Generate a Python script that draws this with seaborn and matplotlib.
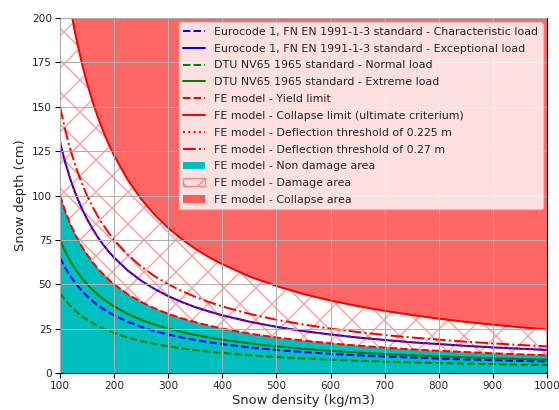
import matplotlib
matplotlib.use("Agg")
import matplotlib.pyplot as plt
import seaborn as sns
import pandas as pd

# Snow density (kg/m3) sample points
density = [100, 110, 120, 130, 140, 150, 160, 170, 180, 190, 200, 225, 250, 275, 300,
           325, 350, 375, 400, 450, 500, 550, 600, 650, 700, 750, 800, 850, 900, 950, 1000]

# Snow depth (cm) for each curve
ec_characteristic = [65.0, 59.1, 54.2, 50.0, 46.4, 43.3, 40.6, 38.2, 36.1, 34.2, 32.5, 28.9,
                     26.0, 23.6, 21.7, 20.0, 18.6, 17.3, 16.3, 14.4, 13.0, 11.8, 10.8, 10.0,
                     9.3, 8.7, 8.1, 7.6, 7.2, 6.8, 6.5]
ec_exceptional = [130.0, 118.2, 108.3, 100.0, 92.9, 86.7, 81.3, 76.5, 72.2, 68.4, 65.0, 57.8,
                  52.0, 47.3, 43.3, 40.0, 37.1, 34.7, 32.5, 28.9, 26.0, 23.6, 21.7, 20.0,
                  18.6, 17.3, 16.3, 15.3, 14.4, 13.7, 13.0]
dtu_normal = [45.0, 40.9, 37.5, 34.6, 32.1, 30.0, 28.1, 26.5, 25.0, 23.7, 22.5, 20.0,
              18.0, 16.4, 15.0, 13.8, 12.9, 12.0, 11.3, 10.0, 9.0, 8.2, 7.5, 6.9,
              6.4, 6.0, 5.6, 5.3, 5.0, 4.7, 4.5]
dtu_extreme = [75.0, 68.2, 62.5, 57.7, 53.6, 50.0, 46.9, 44.1, 41.7, 39.5, 37.5, 33.3,
               30.0, 27.3, 25.0, 23.1, 21.4, 20.0, 18.8, 16.7, 15.0, 13.6, 12.5, 11.5,
               10.7, 10.0, 9.4, 8.8, 8.3, 7.9, 7.5]
fe_yield = [100.0, 90.9, 83.3, 76.9, 71.4, 66.7, 62.5, 58.8, 55.6, 52.6, 50.0, 44.4,
            40.0, 36.4, 33.3, 30.8, 28.6, 26.7, 25.0, 22.2, 20.0, 18.2, 16.7, 15.4,
            14.3, 13.3, 12.5, 11.8, 11.1, 10.5, 10.0]
fe_collapse = [245.0, 222.7, 204.2, 188.5, 175.0, 163.3, 153.1, 144.1, 136.1, 128.9, 122.5, 108.9,
               98.0, 89.1, 81.7, 75.4, 70.0, 65.3, 61.3, 54.4, 49.0, 44.5, 40.8, 37.7,
               35.0, 32.7, 30.6, 28.8, 27.2, 25.8, 24.5]
fe_defl_0225 = [130.0, 118.2, 108.3, 100.0, 92.9, 86.7, 81.3, 76.5, 72.2, 68.4, 65.0, 57.8,
                52.0, 47.3, 43.3, 40.0, 37.1, 34.7, 32.5, 28.9, 26.0, 23.6, 21.7, 20.0,
                18.6, 17.3, 16.3, 15.3, 14.4, 13.7, 13.0]
fe_defl_027 = [150.0, 136.4, 125.0, 115.4, 107.1, 100.0, 93.8, 88.2, 83.3, 78.9, 75.0, 66.7,
               60.0, 54.5, 50.0, 46.2, 42.9, 40.0, 37.5, 33.3, 30.0, 27.3, 25.0, 23.1,
               21.4, 20.0, 18.8, 17.6, 16.7, 15.8, 15.0]

x_ticks = [100, 200, 300, 400, 500, 600, 700, 800, 900, 1000]
y_ticks = [0, 25, 50, 75, 100, 125, 150, 175, 200]

df = pd.DataFrame({
    "density": density,
    "ec_char": ec_characteristic,
    "ec_exc": ec_exceptional,
    "dtu_norm": dtu_normal,
    "dtu_ext": dtu_extreme,
    "yield": fe_yield,
    "collapse": fe_collapse,
    "d0225": fe_defl_0225,
    "d027": fe_defl_027,
})

sns.set_style("ticks")
plt.rcParams["font.family"] = ["DejaVu Sans"]
plt.rcParams["hatch.linewidth"] = 1.0

DPI = 96
fig = plt.figure(figsize=(559 / DPI, 410 / DPI), dpi=DPI)
ax = fig.add_axes([60 / 559, 1 - 373 / 410, 487 / 559, 355 / 410])

series = [
    ("ec_char", "blue", "--", "Eurocode 1, FN EN 1991-1-3 standard - Characteristic load"),
    ("ec_exc", "blue", "-", "Eurocode 1, FN EN 1991-1-3 standard - Exceptional load"),
    ("dtu_norm", "green", "--", "DTU NV65 1965 standard - Normal load"),
    ("dtu_ext", "green", "-", "DTU NV65 1965 standard - Extreme load"),
    ("yield", "red", "--", "FE model - Yield limit"),
    ("collapse", "red", "-", "FE model - Collapse limit (ultimate criterium)"),
    ("d0225", "red", ":", "FE model - Deflection threshold of 0.225 m"),
    ("d027", "red", "-.", "FE model - Deflection threshold of 0.27 m"),
]
for col, color, ls, label in series:
    sns.lineplot(data=df, x="density", y=col, ax=ax, color=color, linestyle=ls,
                 linewidth=1.5, label=label)

ax.fill_between(df["density"], 0, df["yield"], color="c", linewidth=0,
                label="FE model - Non damage area")
ax.fill_between(df["density"], df["yield"], df["collapse"], facecolor="none",
                edgecolor="red", hatch="x", alpha=0.4, linewidth=1.0,
                label="FE model - Damage area")
ax.fill_between(df["density"], df["collapse"], 300, color="red", alpha=0.6,
                linewidth=0, label="FE model - Collapse area")

px = 72 / DPI
ax.set_xlim(100, 1000)
ax.set_ylim(0, 200)
ax.set_xticks(x_ticks)
ax.set_yticks(y_ticks)
ax.grid(True, color="#b0b0b0", linewidth=0.8)
ax.set_axisbelow(False)
ax.set_xlabel("Snow density (kg/m3)", fontsize=13 * px, labelpad=2)
ax.set_ylabel("Snow depth (cm)", fontsize=13 * px, labelpad=4)
ax.tick_params(labelsize=10.5 * px, direction="out", length=3.5, width=0.8,
               color="black", pad=2.5)
for s in ax.spines.values():
    s.set_visible(True)
    s.set_color("black")
    s.set_linewidth(0.8)

leg = ax.legend(loc="upper right", fontsize=11 * px, framealpha=0.8,
                labelspacing=0.62, borderaxespad=0.4)

fig.savefig("out.png", dpi=DPI)
